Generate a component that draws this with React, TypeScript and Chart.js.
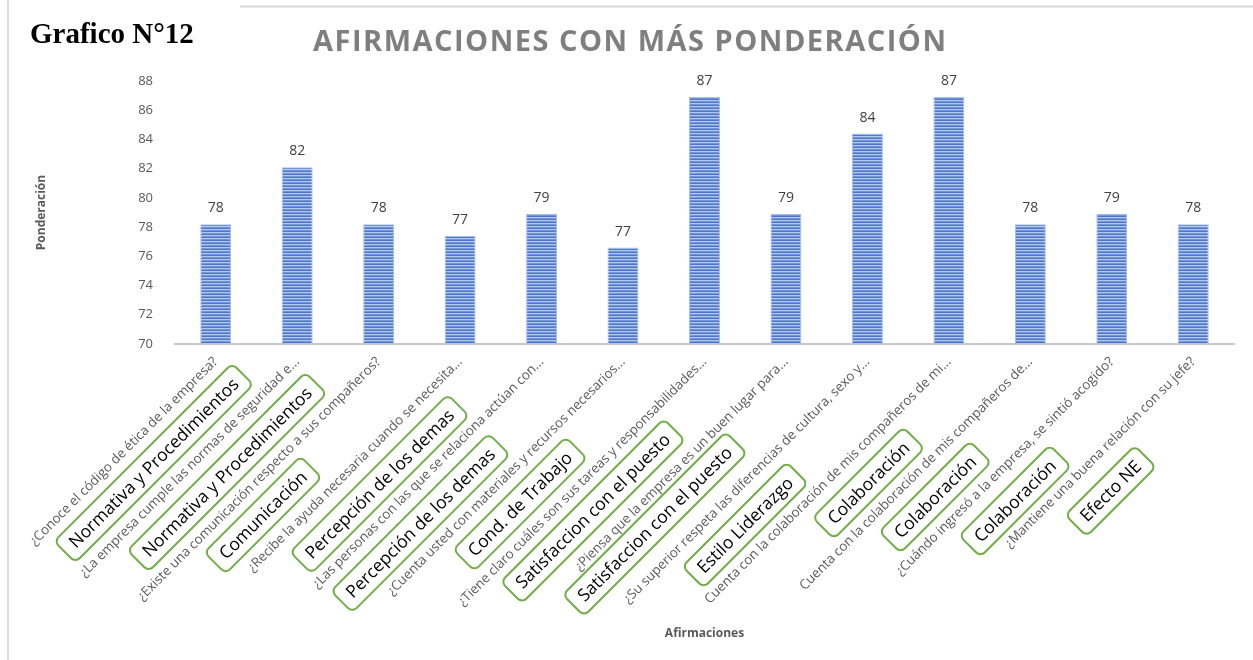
import React, { useEffect, useRef } from "react";
import { Chart, registerables } from "chart.js";

Chart.register(...registerables);

const categories: string[] = [
  "¿Conoce el código de ética de la empresa?",
  "¿La empresa cumple las normas de seguridad e...",
  "¿Existe una comunicación respecto a sus compañeros?",
  "¿Recibe la ayuda necesaria cuando se necesita...",
  "¿Las personas con las que se relaciona actúan con...",
  "¿Cuenta usted con materiales y recursos necesarios...",
  "¿Tiene claro cuáles son sus tareas y responsabilidades...",
  "¿Piensa que la empresa es un buen lugar para...",
  "¿Su superior respeta las diferencias de cultura, sexo y...",
  "Cuenta con la colaboración de mis compañeros de mi...",
  "Cuenta con la colaboración de mis compañeros de...",
  "¿Cuándo ingresó a la empresa, se sintió acogido?",
  "¿Mantiene una buena relación con su jefe?",
];

const values: number[] = [78.2, 82.1, 78.2, 77.4, 78.9, 76.6, 86.9, 78.9, 84.4, 86.9, 78.2, 78.9, 78.2];

const yMin = 70;
const yMax = 88;
const yStep = 2;

const chartTitle = "AFIRMACIONES CON MÁS PONDERACIÓN";
const figureLabel = "Grafico N°12";
const yAxisTitle = "Ponderación";
const xAxisTitle = "Afirmaciones";

const groupLabels: string[] = [
  "Normativa y Procedimientos",
  "Normativa y Procedimientos",
  "Comunicación",
  "Percepción de los demas",
  "Percepción de los demas",
  "Cond. de Trabajo",
  "Satisfaccion con el puesto",
  "Satisfaccion con el puesto",
  "Estilo Liderazgo",
  "Colaboración",
  "Colaboración",
  "Colaboración",
  "Efecto NE",
];
// anchor on the category axis (fractional index) and drop below the axis
const groupAnchor: number[] = [0.7, 1.71, 2.68, 3.73, 4.71, 5.7, 6.68, 7.6, 8.72, 9.72, 10.71, 11.74, 12.79];
const groupDrop: number[] = [119, 128, 171, 140, 179, 160, 167, 180, 181, 139, 153, 157, 147];

function makePattern(): CanvasPattern | string {
  const c = document.createElement("canvas");
  c.width = 4;
  c.height = 3;
  const g = c.getContext("2d");
  if (!g) return "#5b82cc";
  const rows = ["#4d79c8", "#b3c7ec", "#7195d6"];
  rows.forEach((col, i) => {
    g.fillStyle = col;
    g.fillRect(0, i, 4, 1);
  });
  const p = g.createPattern(c, "repeat");
  return p || "#5b82cc";
}

function roundRect(ctx: CanvasRenderingContext2D, x: number, y: number, w: number, h: number, r: number) {
  ctx.beginPath();
  ctx.moveTo(x + r, y);
  ctx.lineTo(x + w - r, y);
  ctx.arcTo(x + w, y, x + w, y + r, r);
  ctx.lineTo(x + w, y + h - r);
  ctx.arcTo(x + w, y + h, x + w - r, y + h, r);
  ctx.lineTo(x + r, y + h);
  ctx.arcTo(x, y + h, x, y + h - r, r);
  ctx.lineTo(x, y + r);
  ctx.arcTo(x, y, x + r, y, r);
  ctx.closePath();
}

const decorPlugin = {
  id: "decor",
  afterDraw(chart: any) {
    const ctx: CanvasRenderingContext2D = chart.ctx;
    const area = chart.chartArea;
    const xs = chart.scales.x;
    ctx.save();

    // frame
    ctx.strokeStyle = "#d9d9d9";
    ctx.lineWidth = 2;
    ctx.beginPath();
    ctx.moveTo(8, 0);
    ctx.lineTo(8, chart.height);
    ctx.moveTo(240, 6.5);
    ctx.lineTo(chart.width, 6.5);
    ctx.stroke();

    // figure label
    ctx.fillStyle = "#000000";
    ctx.font = "bold 29px 'Liberation Serif', 'Times New Roman', serif";
    ctx.textAlign = "left";
    ctx.textBaseline = "alphabetic";
    ctx.fillText(figureLabel, 30, 43);

    // title
    ctx.fillStyle = "#7f7f7f";
    ctx.font = "bold 29px 'Open Sans', sans-serif";
    const targetW = 633;
    (ctx as any).letterSpacing = "0px";
    const w0 = ctx.measureText(chartTitle).width;
    const ls = (targetW - w0) / (chartTitle.length - 1);
    (ctx as any).letterSpacing = ls + "px";
    ctx.fillText(chartTitle, 313, 51);
    (ctx as any).letterSpacing = "0px";

    // data labels
    const meta = chart.getDatasetMeta(0);
    ctx.fillStyle = "#404040";
    ctx.font = "14px 'Open Sans', sans-serif";
    ctx.textAlign = "center";
    ctx.textBaseline = "middle";
    meta.data.forEach((bar: any, i: number) => {
      ctx.fillText(String(Math.round(values[i])), bar.x, bar.y - 16);
    });

    // axis titles
    ctx.fillStyle = "#595959";
    ctx.font = "bold 12px 'Open Sans', sans-serif";
    ctx.fillText(xAxisTitle, (area.left + area.right) / 2, 634);
    ctx.save();
    ctx.translate(42, (area.top + area.bottom) / 2);
    ctx.rotate(-Math.PI / 2);
    ctx.fillText(yAxisTitle, 0, 0);
    ctx.restore();

    // group boxes
    ctx.font = "17.5px 'Open Sans', sans-serif";
    groupLabels.forEach((lab, i) => {
      const drop = groupDrop[i];
      const cx = xs.getPixelForValue(groupAnchor[i]) - drop;
      const cy = area.bottom + drop;
      const tw = ctx.measureText(lab).width;
      const bw = tw + 20;
      const bh = 30;
      ctx.save();
      ctx.translate(cx, cy);
      ctx.rotate(-Math.PI / 4);
      roundRect(ctx, -bw / 2, -bh / 2, bw, bh, 6);
      ctx.strokeStyle = "#70ad47";
      ctx.lineWidth = 2;
      ctx.stroke();
      ctx.fillStyle = "#000000";
      ctx.textAlign = "center";
      ctx.textBaseline = "middle";
      ctx.fillText(lab, 0, 1);
      ctx.restore();
    });
    ctx.restore();
  },
};

export default function App() {
  const ref = useRef<HTMLCanvasElement | null>(null);
  useEffect(() => {
    if (!ref.current) return;
    const chart = new Chart(ref.current, {
      type: "bar",
      data: {
        labels: categories,
        datasets: [
          {
            data: values,
            backgroundColor: makePattern() as any,
            borderColor: "#a6bde8",
            borderWidth: 1,
            barPercentage: 0.38,
            categoryPercentage: 1,
          },
        ],
      },
      options: {
        animation: false,
        responsive: true,
        maintainAspectRatio: false,
        layout: { padding: { left: 0, right: 19, top: 81, bottom: 0 } },
        plugins: {
          legend: { display: false },
          title: { display: false },
          tooltip: { enabled: false },
        },
        scales: {
          x: {
            grid: { display: false },
            border: { display: true, color: "#c9c9c9", width: 2 },
            ticks: {
              autoSkip: false,
              maxRotation: 45,
              minRotation: 45,
              color: "#595959",
              font: { family: "'Open Sans', sans-serif", size: 13.3 },
              padding: 2,
            },
            afterFit: (s: any) => {
              s.height = 316;
            },
          },
          y: {
            min: yMin,
            max: yMax,
            grid: { display: false },
            border: { display: false },
            ticks: {
              stepSize: yStep,
              color: "#595959",
              font: { family: "'Open Sans', sans-serif", size: 13 },
              padding: 14,
            },
            afterFit: (s: any) => {
              s.width = 175;
            },
          },
        },
      },
      plugins: [decorPlugin],
    });
    return () => chart.destroy();
  }, []);
  return (
    <div style={{ position: "fixed", left: 0, top: 0, width: 1253, height: 660, background: "#fff" }}>
      <canvas ref={ref} />
    </div>
  );
}
